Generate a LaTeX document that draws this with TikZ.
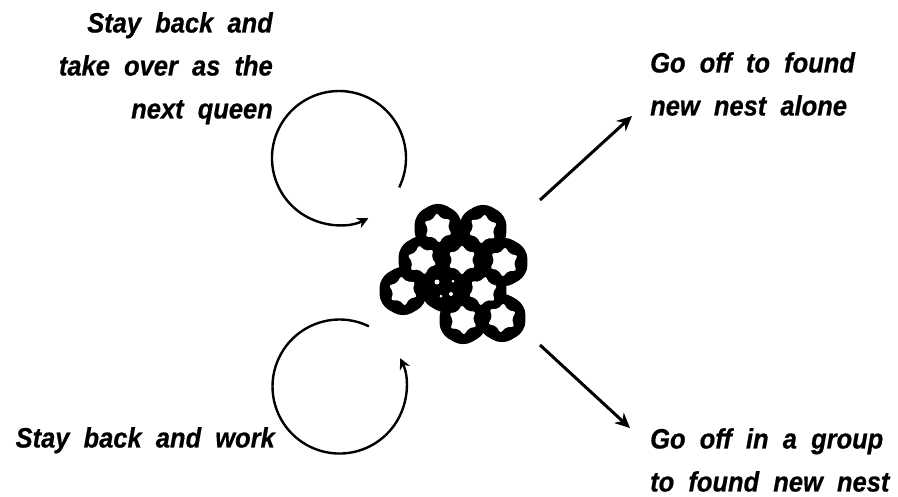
\documentclass[tikz,border=0pt]{standalone}
\usepackage{fontspec}
\usetikzlibrary{arrows.meta}
\newfontfamily\handfont{Liberation Sans}[FakeStretch=0.91, WordSpace=2.0, FakeBold=0.6]

\begin{document}
\begin{tikzpicture}[x=1pt, y=1pt,
  lbl/.style={font=\handfont\bfseries\itshape\fontsize{28}{43}\selectfont, inner sep=0pt},
  loop/.style={line width=2.4pt, -{Stealth[length=11pt, width=11pt]}},
  ray/.style={line width=3pt, -{Stealth[length=15pt, width=14pt]}},
  cellwall/.style={fill=black, rounded corners=10pt},
  cellhole/.style={fill=white, rounded corners=2pt}]
\useasboundingbox (0,0) rectangle (898,-496);

% labels
\node[lbl, align=right, anchor=north east] (queen) at (273,-12)
  {Stay back and\\take over as the\\next queen};
\node[lbl, anchor=north east] (work) at (275,-427) {Stay back and work};
\node[lbl, align=left, anchor=north west] (alone) at (650,-52)
  {Go off to found\\new nest alone};
\node[lbl, align=left, anchor=north west] (group) at (650,-428)
  {Go off in a group\\to found new nest};

% comb of cells: walls first, then the open centres
\foreach \cx/\cy in {438/-228, 483/-229, 422/-260, 462/-260, 504/-262,
                     403/-291, 445/-288, 483/-291, 463/-320, 502/-318}
  \fill[cellwall] (\cx,\cy) +(90:27) -- +(150:27) -- +(210:27)
     -- +(270:27) -- +(330:27) -- +(30:27) -- cycle;
\foreach \cx/\cy/\rot in {438/-228/5, 483/-229/-8, 422/-260/12, 462/-260/0,
                          504/-262/-5, 403/-291/8, 483/-291/-10,
                          463/-320/4, 502/-318/-6}
  \fill[cellhole] (\cx,\cy)
     +(90+\rot:15) -- +(120+\rot:10) -- +(150+\rot:15) -- +(180+\rot:10)
     -- +(210+\rot:15) -- +(240+\rot:10) -- +(270+\rot:15) -- +(300+\rot:10)
     -- +(330+\rot:15) -- +(0+\rot:10) -- +(30+\rot:15) -- +(60+\rot:10) -- cycle;
% the darker cell shows only a few specks
\fill[white] (437,-282) circle (2.5) (451,-294) circle (2) (441,-296) circle (1.5)
             (453,-281) circle (1.5);
\coordinate (nest) at (455,-272);

% staying at home: circling arrows
\coordinate (qstart) at (399.2,-187.4);
\draw[loop] (qstart) arc[start angle=-26, end angle=296, radius=67pt];
\coordinate (wstart) at (368.9,-326.3);
\draw[loop] (wstart) arc[start angle=64, end angle=385, radius=67pt];

% leaving: straight arrows
\coordinate (outNE) at (540,-200);
\coordinate (outSE) at (540,-345);
\coordinate (aloneTip) at (632,-116);
\coordinate (groupTip) at (630,-428);
\draw[ray] (outNE) -- (aloneTip);
\draw[ray] (outSE) -- (groupTip);
\end{tikzpicture}
\end{document}
